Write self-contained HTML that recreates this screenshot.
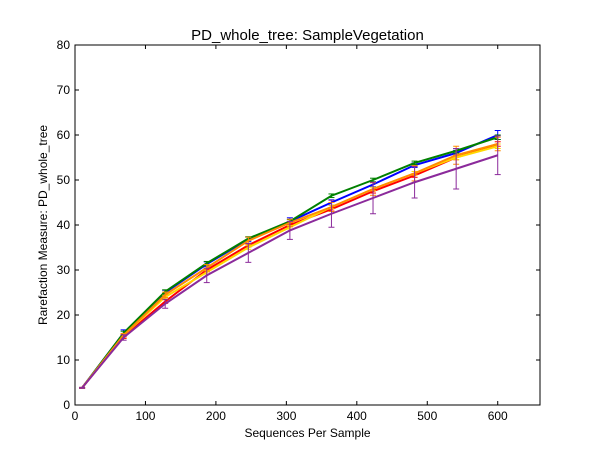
<!DOCTYPE html>
<html><head><meta charset="utf-8"><style>
body{margin:0;background:#fff;}
svg text{font-family:"Liberation Sans",sans-serif;}
</style></head><body>
<svg id="c" width="600" height="450" xmlns="http://www.w3.org/2000/svg"></svg>
<script>
const xs=[10,69,128,187,246,305,364,423,482,541,600];
const blue=[3.8,16,25,31.3,36.8,40.8,45,49,53.3,56,60];
const green=[3.8,16,25.2,31.5,37,40.8,46.5,50,53.8,56.5,59.5];
const red=[3.8,15.2,23,30,35.5,40,43.5,47.5,51,55,58];
const yellow=[3.8,15.5,24,29.5,35,39.5,44,48,51.5,55,57.5];
const orange=[3.8,15.5,24.5,30.5,36.5,40.5,44,48,51.5,55.5,58];
const purple=[3.8,15,22.5,28.8,33.8,38.8,42.5,46,49.5,52.5,55.5];
const errSmall=[0.1,0.4,0.4,0.4,0.4,0.4,0.4,0.4,0.4,0.5,0.5];
const errBlue=[0.1,0.7,0.5,0.5,0.5,0.8,0.6,0.5,0.5,0.6,1];
const errOrange=[0.1,0.4,0.6,0.7,0.8,0.8,1,1.4,1.7,2,1.5];
const errPurple=[0.1,0.6,1,1.6,2.1,2,3,3.5,3.5,4.5,4.3];
const xTicks=[0,100,200,300,400,500,600];
const yTicks=[0,10,20,30,40,50,60,70,80];
const L=75,R=540,T=45,B=405,XMAX=660,YMAX=80;
const X=v=>L+(R-L)*v/XMAX, Y=v=>B-(B-T)*v/YMAX;
const svg=document.getElementById('c');const NS='http://www.w3.org/2000/svg';
function mk(tag,at,parent){const e=document.createElementNS(NS,tag);for(const k in at)e.setAttribute(k,at[k]);(parent||svg).appendChild(e);return e;}
const series=[[blue,'#0000ff',errBlue,'blue'],[green,'#008000',errSmall,'green'],[red,'#ff0000',errSmall,'red'],[yellow,'#ffd700',errSmall,'yellow'],[orange,'#ff8c00',errOrange,'orange'],[purple,'#8b2a9b',errPurple,'purple']];
series.forEach(([d,col,err,nm])=>{
 const g=mk('g',{});
 
 
 mk('polyline',{points:d.map((v,i)=>X(xs[i])+','+Y(v)).join(' '),fill:'none',stroke:col,'stroke-width':2},g);
 d.forEach((v,i)=>{const x=X(xs[i]);
  mk('line',{x1:x,x2:x,y1:Y(v-err[i]),y2:Y(v+err[i]),stroke:col,'stroke-width':1},g);
  mk('line',{x1:x-3,x2:x+3,y1:Y(v-err[i]),y2:Y(v-err[i]),stroke:col,'stroke-width':1},g);
  mk('line',{x1:x-3,x2:x+3,y1:Y(v+err[i]),y2:Y(v+err[i]),stroke:col,'stroke-width':1},g);
 });
});
const fr=mk('rect',{x:L,y:T,width:R-L,height:B-T,fill:'none',stroke:'#000','stroke-width':1});


xTicks.forEach(t=>{const x=X(t);
 mk('line',{x1:x,x2:x,y1:B,y2:B-4,stroke:'#000'});mk('line',{x1:x,x2:x,y1:T,y2:T+4,stroke:'#000'});
 const tx=mk('text',{x:x,y:B+15,'font-size':12,'text-anchor':'middle'});tx.textContent=t;
 
 
});
yTicks.forEach(t=>{const y=Y(t);
 mk('line',{x1:L,x2:L+4,y1:y,y2:y,stroke:'#000'});mk('line',{x1:R,x2:R-4,y1:y,y2:y,stroke:'#000'});
 const tx=mk('text',{x:L-5,y:y+4,'font-size':12,'text-anchor':'end'});tx.textContent=t;
 
 
});
const ti=mk('text',{x:(L+R)/2,y:40,'font-size':15,'text-anchor':'middle'});ti.textContent='PD_whole_tree: SampleVegetation';


const xl=mk('text',{x:(L+R)/2,y:437,'font-size':12,'text-anchor':'middle'});xl.textContent='Sequences Per Sample';


const yl=mk('text',{x:0,y:0,'font-size':12,'text-anchor':'middle',transform:'translate(47,225) rotate(-90)'});yl.textContent='Rarefaction Measure: PD_whole_tree';


</script>
</body></html>
